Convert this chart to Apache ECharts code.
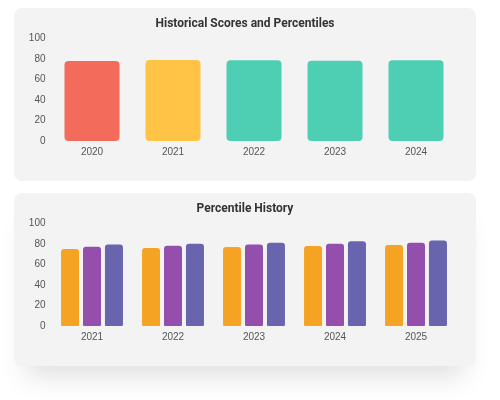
<!DOCTYPE html>
<html>
<head>
<meta charset="utf-8">
<script src="https://cdn.jsdelivr.net/npm/echarts@6/dist/echarts.min.js"></script>
<style>
  html, body { margin: 0; padding: 0; background: #fff; }
  body { width: 500px; height: 400px; position: relative; overflow: hidden; }
  .card {
    position: absolute; left: 14px; width: 462px; height: 173px;
    background: #f3f3f3; border-radius: 8px;
  }
  #scores { top: 8px; }
  #history { top: 193px; box-shadow: 0 22px 26px -12px rgba(0,0,0,0.13); }
</style>
</head>
<body>
<div class="card" id="scores"></div>
<div class="card" id="history"></div>
<script>
  // 数据
  var scoreYears = ['2020', '2021', '2022', '2023', '2024'];
  var scoreValues = [78, 79, 78.7, 78.4, 78.7];
  var scoreColors = ['#f26b5b', '#ffc445', '#4ecfb3', '#4ecfb3', '#4ecfb3'];

  var historyYears = ['2021', '2022', '2023', '2024', '2025'];
  var histOrange = [75.2, 76.1, 77.1, 78.1, 79];
  var histPurple = [77.4, 78.4, 79.4, 80.3, 81.3];
  var histIndigo = [79.4, 80.3, 81.3, 82.6, 83.5];

  var yTicks = { min: 0, max: 100, interval: 20 };

  function baseOption(title, cats) {
    return {
      animation: false,
      title: {
        text: title, left: 'center', top: 5,
        textStyle: { fontSize: 12, fontWeight: 'bold', color: '#333', fontFamily: 'Roboto' }
      },
      grid: { left: 37.5, right: 19.5, top: 30.5, bottom: 40 },
      xAxis: {
        type: 'category', data: cats,
        axisLine: { show: false }, axisTick: { show: false },
        axisLabel: { color: '#555', fontSize: 10, margin: 6, fontFamily: 'Liberation Sans' }
      },
      yAxis: {
        type: 'value', min: yTicks.min, max: yTicks.max, interval: yTicks.interval,
        splitLine: { show: false }, axisLine: { show: false }, axisTick: { show: false },
        axisLabel: { color: '#555', fontSize: 10, margin: 6, fontFamily: 'Liberation Sans' }
      }
    };
  }

  var chart1 = echarts.init(document.getElementById('scores'));
  var opt1 = baseOption('Historical Scores and Percentiles', scoreYears);
  opt1.series = [{
    type: 'bar', barWidth: 55,
    data: scoreValues.map(function (v, i) {
      return { value: v, itemStyle: { color: scoreColors[i] } };
    }),
    itemStyle: { borderRadius: 4 }
  }];
  chart1.setOption(opt1);

  var chart2 = echarts.init(document.getElementById('history'));
  var opt2 = baseOption('Percentile History', historyYears);
  var barStyle = function (c) {
    return { color: c, borderRadius: [3, 3, 1, 1] };
  };
  opt2.series = [
    { name: 'A', type: 'bar', barWidth: 18, barGap: '22%', data: histOrange, itemStyle: barStyle('#f4a422') },
    { name: 'B', type: 'bar', barWidth: 18, barGap: '22%', data: histPurple, itemStyle: barStyle('#944fac') },
    { name: 'C', type: 'bar', barWidth: 18, barGap: '22%', data: histIndigo, itemStyle: barStyle('#6964ae') }
  ];
  chart2.setOption(opt2);
</script>
</body>
</html>
